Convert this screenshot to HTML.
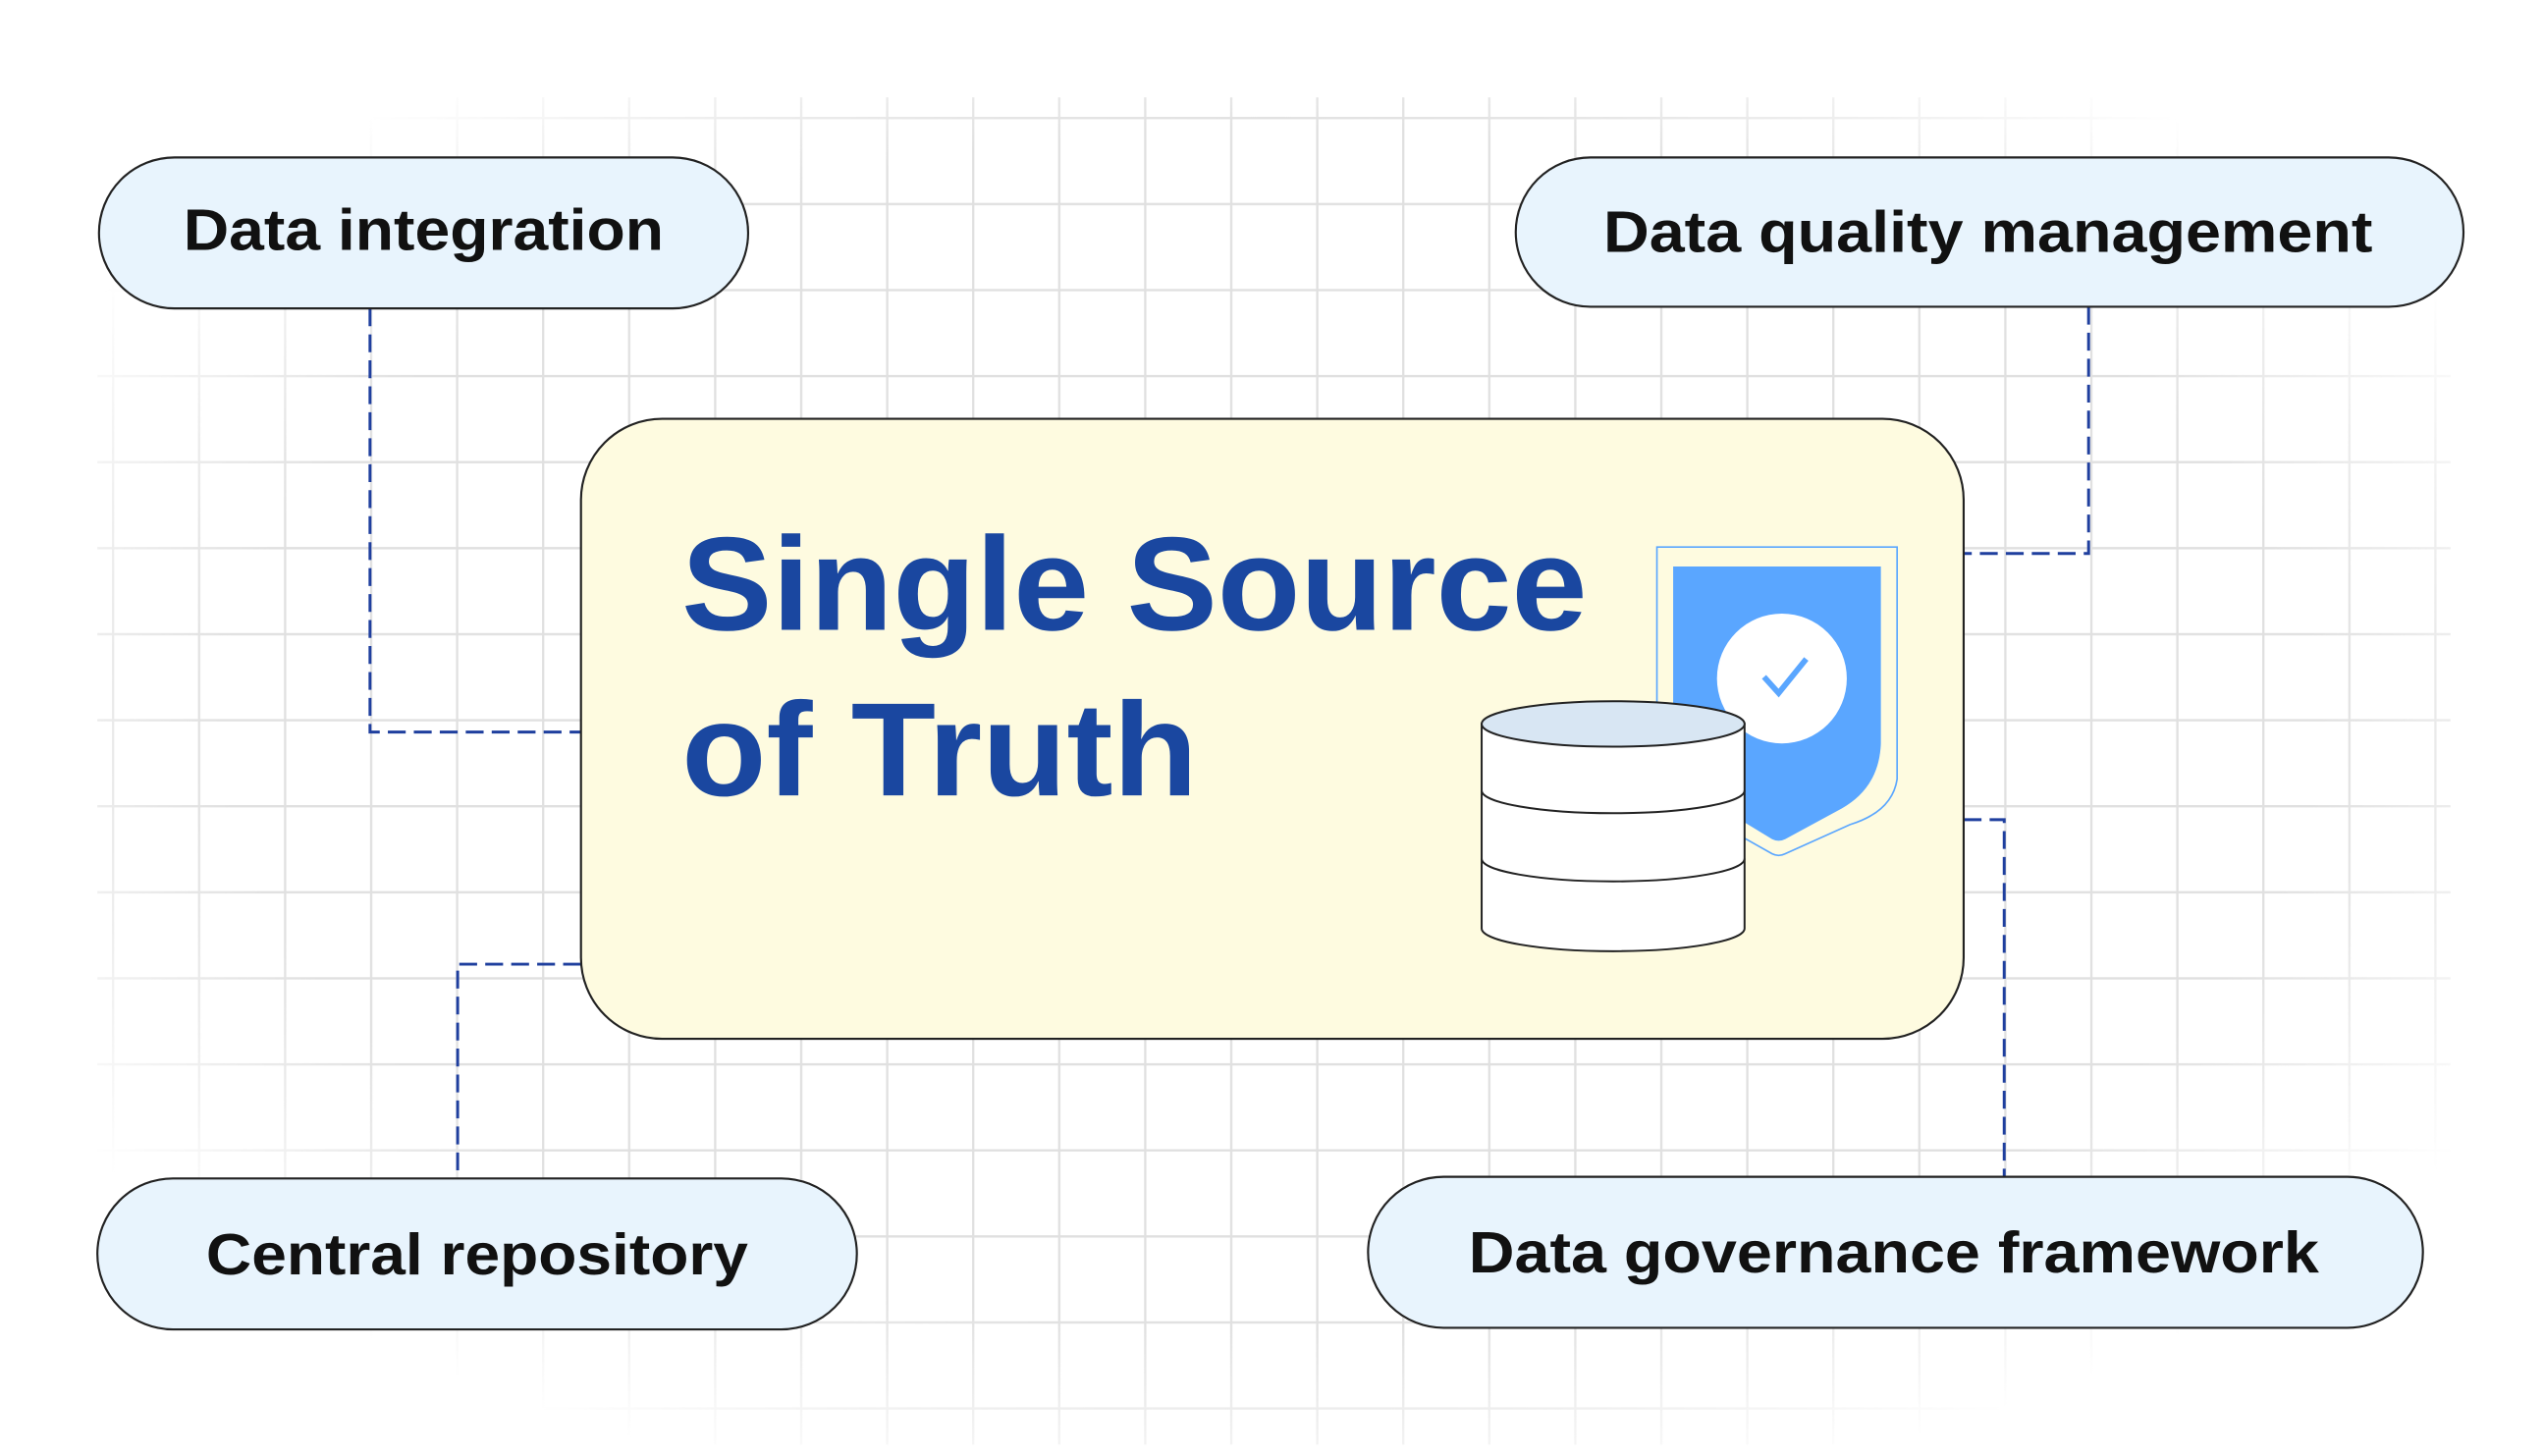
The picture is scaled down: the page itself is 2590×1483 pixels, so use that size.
<!DOCTYPE html>
<html><head><meta charset="utf-8"><style>
html,body{margin:0;padding:0;background:#fff;}
svg{display:block;}
text{font-family:"Liberation Sans",sans-serif;}
</style></head><body>
<svg width="2590" height="1483" viewBox="0 0 1567 897" preserveAspectRatio="none" xmlns="http://www.w3.org/2000/svg">
<defs>
<radialGradient id="fade" cx="50%" cy="50%" r="55%">
<stop offset="0" stop-color="#fff"/><stop offset="0.75" stop-color="#fff"/><stop offset="1" stop-color="#000"/>
</radialGradient>
<mask id="m"><rect x="0" y="0" width="1567" height="897" fill="url(#fade)"/></mask>
<pattern id="grid" x="16" y="19" width="53" height="53" patternUnits="userSpaceOnUse">
<path d="M0 0V53M0 0H53" stroke="#e0e0e0" stroke-width="2.8" fill="none"/>
</pattern>
</defs>
<rect x="60" y="60" width="1450" height="830" fill="url(#grid)" mask="url(#m)"/>

<g fill="none" stroke="#1f3f9e" stroke-width="1.8" stroke-dasharray="11 5">
<path d="M228 190V451H358"/>
<path d="M1287 189V341H1210"/>
<path d="M358 594H282V726"/>
<path d="M1210 505H1235V725"/>
</g>

<g fill="#e8f4fd" stroke="#222" stroke-width="1.3">
<rect x="61" y="97" width="400" height="93" rx="46.5"/>
<rect x="934" y="97" width="584" height="92" rx="46"/>
<rect x="60" y="726" width="468" height="93" rx="46.5"/>
<rect x="843" y="725" width="650" height="93" rx="46.5"/>
</g>
<g font-size="36" font-weight="bold" fill="#111">
<text x="113" y="154" textLength="296" lengthAdjust="spacingAndGlyphs">Data integration</text>
<text x="988" y="155" textLength="474" lengthAdjust="spacingAndGlyphs">Data quality management</text>
<text x="127" y="785" textLength="334" lengthAdjust="spacingAndGlyphs">Central repository</text>
<text x="905" y="784" textLength="524" lengthAdjust="spacingAndGlyphs">Data governance framework</text>
</g>

<rect x="358" y="258" width="852" height="382" rx="50" fill="#fefbe0" stroke="#222" stroke-width="1.3"/>
<g font-size="82" font-weight="bold" fill="#1a47a0">
<text x="420" y="388" textLength="558" lengthAdjust="spacingAndGlyphs">Single Source</text>
<text x="420" y="490" textLength="318" lengthAdjust="spacingAndGlyphs">of Truth</text>
</g>

<path d="M1021 337H1169V480Q1166 500 1140 508L1100 526Q1096 528 1092 526L1021 486Z" fill="#fefbe0" stroke="#5aa6ff" stroke-width="1"/>
<path d="M1031 349H1159V458Q1158 485 1135 498L1100 517Q1096 519 1092 517L1031 480Z" fill="#5aa6ff"/>
<ellipse cx="1098" cy="418" rx="40" ry="40" fill="#fff"/>
<path d="M1087 417L1096 427L1113 406" fill="none" stroke="#5aa6ff" stroke-width="3.5"/>

<g stroke="#222" stroke-width="1.2">
<path d="M913 446V572A81 14 0 0 0 1075 572V446Z" fill="#fff"/>
<path d="M913 487A81 14 0 0 0 1075 487M913 529A81 14 0 0 0 1075 529" fill="none"/>
<ellipse cx="994" cy="446" rx="81" ry="14" fill="#d8e6f3"/>
</g>
</svg>
</body></html>
